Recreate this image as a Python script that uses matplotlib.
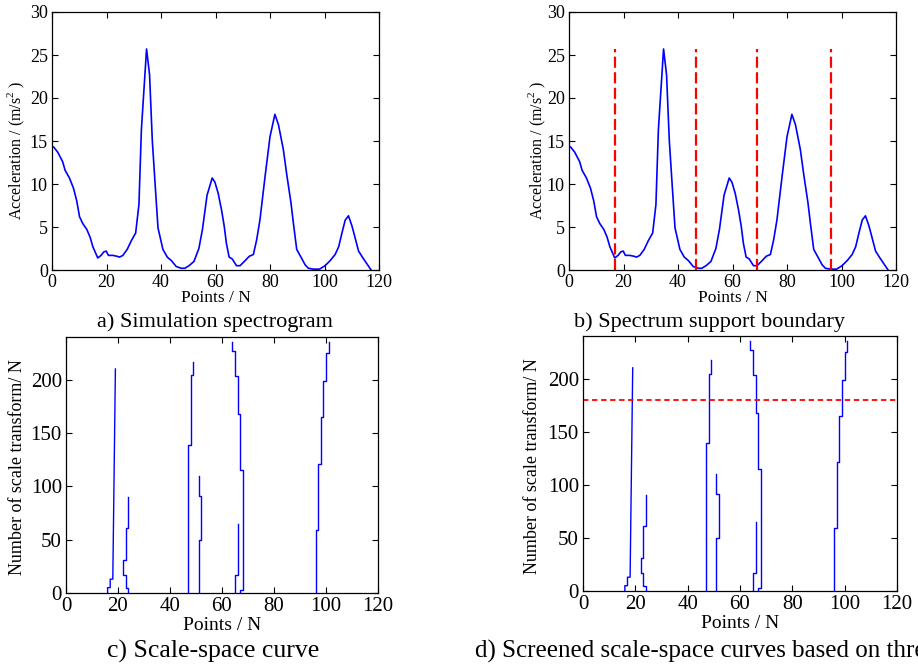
import matplotlib
matplotlib.use('Agg')
import matplotlib.pyplot as plt

plt.rcParams['font.family'] = ['Liberation Serif', 'DejaVu Serif']
plt.rcParams['mathtext.fontset'] = 'custom'
plt.rcParams['mathtext.rm'] = 'Liberation Serif'

# spectre simulé
spec_x = [0.6, 2.1, 3.9, 4.8, 6.4, 7.9, 9.1, 10.1, 11.3, 12.8, 14.0, 15.0, 16.8, 18.0,
          19.0, 19.9, 20.7, 22.3, 23.8, 24.8, 26.0, 27.6, 29.1, 30.7, 31.9, 32.8, 34.7,
          35.8, 36.8, 37.9, 38.9, 40.7, 42.3, 43.8, 45.6, 47.5, 48.7, 50.3, 52.1, 53.9,
          55.2, 56.9, 58.8, 59.8, 61.0, 62.2, 63.2, 64.0, 65.0, 66.1, 67.7, 69.0, 70.6,
          72.4, 73.9, 75.1, 76.3, 78.2, 80.0, 81.8, 83.1, 84.9, 86.1, 87.7, 88.6, 89.8,
          91.7, 92.9, 94.1, 96.0, 98.2, 100.2, 102.1, 103.9, 105.2, 106.4, 107.6, 108.8,
          110.1, 111.1, 112.5, 114.1, 117.1]
spec_y = [14.3, 13.7, 12.6, 11.6, 10.7, 9.5, 8.0, 6.2, 5.4, 4.7, 3.8, 2.7, 1.4, 1.7,
          2.1, 2.2, 1.7, 1.7, 1.6, 1.5, 1.7, 2.4, 3.4, 4.3, 7.6, 16.3, 25.7,
          22.7, 15.1, 9.7, 4.9, 2.4, 1.5, 1.1, 0.4, 0.2, 0.2, 0.5, 1.0, 2.5,
          4.7, 8.7, 10.7, 10.2, 8.9, 7.0, 5.1, 3.1, 1.5, 1.3, 0.5, 0.5, 1.0,
          1.6, 1.8, 3.5, 5.8, 10.9, 15.5, 18.1, 16.9, 14.0, 11.2, 7.8, 5.4, 2.4,
          1.3, 0.6, 0.2, 0.1, 0.1, 0.5, 1.1, 1.8, 2.7, 4.3, 5.8, 6.3,
          5.1, 3.9, 2.2, 1.4, 0.0]

# frontières du support
bound_x = [16.8, 46.7, 69.0, 96.0]
bound_top = 25.7

# courbes espace-échelle
curves = [
    ([16, 16, 17, 17, 18, 19], [0, 5, 5, 13, 13, 210]),
    ([24, 24, 23, 23, 22, 22, 23, 23, 24, 24], [0, 5, 5, 17, 17, 31, 31, 61, 61, 90]),
    ([47, 47, 48, 48, 49, 49], [0, 139, 139, 204, 204, 217]),
    ([51, 51, 52, 52, 51, 51], [0, 50, 50, 91, 91, 110]),
    ([65, 65, 66, 66], [0, 17, 17, 65]),
    ([67, 67, 68, 68, 67, 67, 66, 66, 65, 65, 64, 64],
     [0, 3, 3, 115, 115, 168, 168, 203, 203, 227, 227, 235]),
    ([96, 96, 97, 97, 98, 98, 99, 99, 100, 100, 101, 101],
     [0, 59, 59, 121, 121, 165, 165, 199, 199, 225, 225, 235]),
]
seuil = 180

W, H = 918, 666
fig = plt.figure(figsize=(W / 100, H / 100), dpi=100)


def box(l, t, r, b):
    return [l / W, 1 - b / H, (r - l) / W, (b - t) / H]


def style(ax, fs):
    ax.tick_params(direction='in', top=True, right=True, length=4, labelsize=fs,
                   width=0.8, pad=3)
    for s in ax.spines.values():
        s.set_linewidth(0.9)


ax_a = fig.add_axes(box(52, 12, 379, 270))
ax_b = fig.add_axes(box(569, 12, 896, 270))
for ax, ylx in ((ax_a, -0.11), (ax_b, -0.098)):
    ax.plot(spec_x, spec_y, color='b', lw=1.2)
    ax.set_xlim(0, 120)
    ax.set_ylim(0, 30)
    ax.set_xticks(range(0, 121, 20))
    ax.set_yticks(range(0, 31, 5))
    style(ax, 13)
    ax.set_xlabel('Points / N', fontsize=12.5, va='center')
    ax.xaxis.set_label_coords(0.5, -0.11)
    ax.set_ylabel('Acceleration / (m/s$^{2}$ )', fontsize=11.5, va='center')
    ax.yaxis.set_label_coords(ylx, 0.465)

for bx in bound_x:
    ax_b.plot([bx, bx], [0, bound_top], color='r', lw=1.6, ls=(0, (5, 2)))

ax_c = fig.add_axes(box(66, 337, 378, 593))
ax_d = fig.add_axes(box(583, 336, 897, 591))
for ax, ylx in ((ax_c, -0.155), (ax_d, -0.16)):
    for cx, cy in curves:
        ax.plot(cx, cy, color='b', lw=1.0)
    ax.set_xlim(0, 120)
    ax.set_ylim(0, 240)
    ax.set_xticks(range(0, 121, 20))
    ax.set_yticks(range(0, 201, 50))
    style(ax, 15)
    ax.set_xlabel('Points / N', fontsize=14, va='center')
    ax.xaxis.set_label_coords(0.5, -0.128)
    ax.set_ylabel('Number of scale transform/ N', fontsize=13, va='center')
    ax.yaxis.set_label_coords(ylx, 0.49)

ax_d.axhline(seuil, color='r', lw=1.3, ls=(0, (3, 2)))

fig.text(215 / W, 1 - 322 / H, 'a) Simulation spectrogram', fontsize=16,
         ha='center', va='center')
fig.text(709 / W, 1 - 322 / H, 'b) Spectrum support boundary', fontsize=16,
         ha='center', va='center')
fig.text(213 / W, 1 - 651 / H, 'c) Scale-space curve', fontsize=18.5,
         ha='center', va='center')
fig.text(475 / W, 1 - 651 / H, 'd) Screened scale-space curves based on threshold',
         fontsize=18, ha='left', va='center')

fig.savefig('out.png', dpi=100)
